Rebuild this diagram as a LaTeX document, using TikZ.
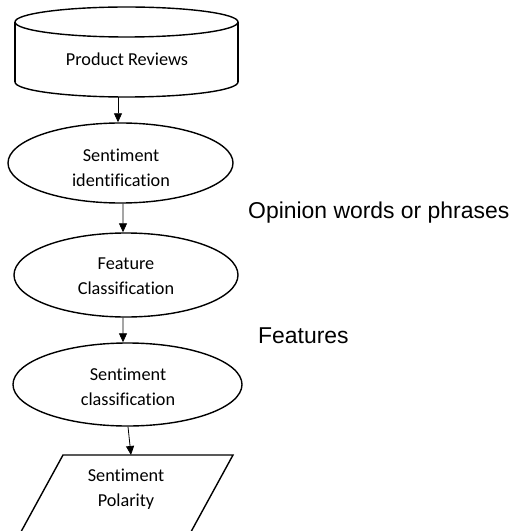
\documentclass[tikz,border=0pt]{standalone}
\usepackage{fontspec}
\setmainfont[Ligatures=NoCommon]{Carlito}
\newfontfamily\labelfont{Liberation Sans}
\usetikzlibrary{shapes.geometric,arrows.meta}
\begin{document}
\begin{tikzpicture}[x=1bp,y=-1bp,
  shapeline/.style={line width=1.4bp},
  proc/.style={draw, ellipse, line width=1.4bp, inner sep=0pt},
  stage/.style={font=\fontsize{18.3}{25}\selectfont, align=center, inner sep=0pt},
  note/.style={font=\labelfont\fontsize{23}{27}\selectfont, inner sep=0pt, anchor=base west},
  flow/.style={-{Triangle[width=8bp,length=9bp]}, line width=0.8bp}]
\useasboundingbox (0,0) rectangle (516,531);
\clip (0,0) rectangle (516,531);

% data store: cylinder
\draw[shapeline] (126.5,22) ellipse [x radius=111.5bp, y radius=15bp];
\draw[shapeline] (15,22) -- (15,82);
\draw[shapeline] (238,22) -- (238,82);
\begin{scope}
  \clip (0,82) rectangle (516,120);
  \draw[shapeline] (126.5,82) ellipse [x radius=111.5bp, y radius=15bp];
\end{scope}
\node[stage] (rev) at (127,59) {Product Reviews};
\coordinate (revout) at (118,97);

% processing stages
\node[proc, minimum width=225bp, minimum height=80bp] (e1) at (120.5,163) {};
\node[stage] (t1) at (121,168) {Sentiment\\identification};
\node[proc, minimum width=224bp, minimum height=84bp] (e2) at (126,275) {};
\node[stage] (t2) at (126,276.5) {Feature\\Classification};
\node[proc, minimum width=229bp, minimum height=83bp] (e3) at (127.5,384.5) {};
\node[stage] (t3) at (128,387) {Sentiment\\classification};

% output: parallelogram
\coordinate (pa) at (63,455);
\coordinate (pb) at (233,455);
\coordinate (paratop) at (131,455);
\draw[shapeline] (16.5,540) -- (pa) -- (pb) -- (186.5,540);
\node[stage] (t4) at (126,489) {Sentiment\\Polarity};

% connectors
\draw[flow] (revout) -- (revout |- e1.north);
\draw[flow] ([xshift=2.5bp]e1.south) -- ([xshift=-3bp]e2.north);
\draw[flow] ([xshift=-3bp]e2.south) -- ([xshift=-4.5bp]e3.north);
\draw[flow] ([xshift=0.5bp]e3.south) -- (paratop);

% side notes
\node[note] (op) at (248,218) {Opinion words or phrases};
\node[note] (feat) at (258,343) {Features};
\end{tikzpicture}
\end{document}
